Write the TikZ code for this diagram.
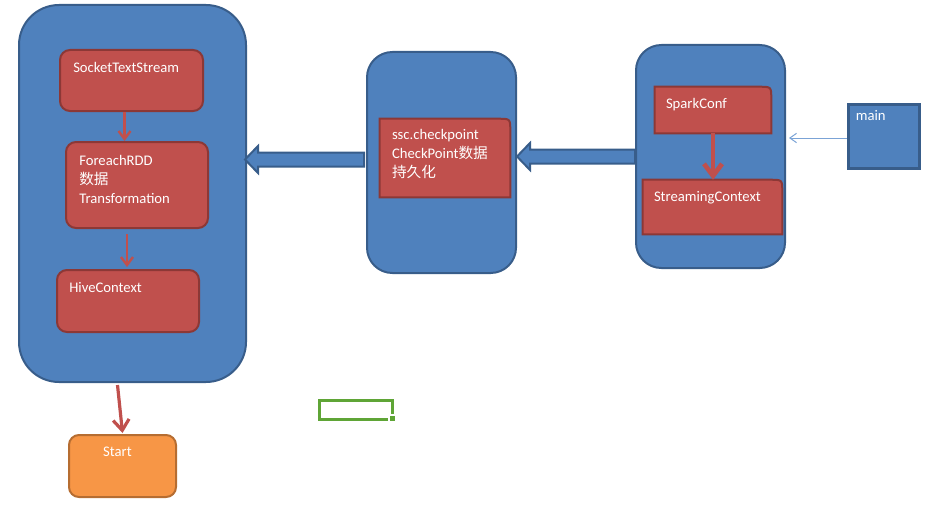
\documentclass[tikz,border=0pt]{standalone}
\usepackage{fontspec}
\setmainfont{Carlito}
\newfontfamily\cjk{Noto Sans CJK SC}
\usepackage{tikz}
\usetikzlibrary{calc,fit,arrows.meta}
\definecolor{blueface}{HTML}{4F81BD}
\definecolor{bluedark}{HTML}{385D8A}
\definecolor{redface}{HTML}{C0504D}
\definecolor{reddark}{HTML}{8C3836}
\definecolor{orangeface}{HTML}{F79646}
\definecolor{orangedark}{HTML}{B66D31}
\definecolor{thinblue}{HTML}{7BA3D6}
\definecolor{selgreen}{HTML}{5FA536}

\begin{document}
\begin{tikzpicture}[x=0.75pt, y=-0.75pt,
	bluebox/.style={draw=bluedark, fill=blueface, line width=1.5pt, inner sep=0pt},
	redbox/.style={draw=reddark, fill=redface, line width=1.5pt, inner sep=0pt, rounded corners=7.5pt},
	frame/.style={inner sep=0pt},
	lbl/.style={anchor=north west, inner sep=0pt, text=white, align=left, font=\fontsize{11}{14.25}\selectfont},
	redarrow/.style={draw=redface, line width=1.8pt, -{Straight Barb[length=6pt, width=9pt]}},
	blockarrow/.style={draw=bluedark, fill=blueface, line width=1.5pt},
	thinarrow/.style={draw=thinblue, line width=0.75pt, -{Straight Barb[length=5pt, width=7pt]}}]
	\useasboundingbox (0,0) rectangle (944,510);

	% left block
	\node (big) [bluebox, rounded corners=30pt, fit={(19,5) (246,382)}] {};
	\node (sts) [redbox, fit={(60,50) (203,111)}] {};
	\node (frdd) [redbox, fit={(66,142) (208,228)}] {};
	\node (hive) [redbox, fit={(57,270) (199,332)}] {};
	\node (sts-t) [lbl] at ($(sts.north west)+(14,13)$) {SocketTextStream};
	\node (frdd-t) [lbl] at ($(frdd.north west)+(14,14)$) {ForeachRDD\\{\cjk 数据}\\Transformation};
	\node (hive-t) [lbl] at ($(hive.north west)+(13,13)$) {HiveContext};
	\draw[redarrow] ($(sts.south)+(-7,0)$) coordinate (a1) -- (a1 |- frdd.north);
	\draw[redarrow] ($(frdd.south)+(-10,5)$) coordinate (a2) -- ($(a2 |- hive.north)+(0,-2)$);

	\node (start) [redbox, draw=orangedark, fill=orangeface, fit={(69,435) (176,497)}] {};
	\node (start-t) [lbl, anchor=north] at ($(start.north)+(-5,13)$) {Start};
	\draw[redarrow, line width=2.4pt, -{Straight Barb[length=8pt, width=12pt]}] ($(big.south)+(-15,2)$) -- ($(start.north)+(0,-1)$);

	% middle block
	\node (mid) [bluebox, rounded corners=19pt, fit={(367,52) (516,273)}] {};
	\node (ckpt) [frame, fit={(380,119) (510,197)}] {};
	\draw[redbox, rounded corners=0pt] (ckpt.south west) |- ($(ckpt.north east)+(-12,0)$) .. controls (ckpt.north east) .. ($(ckpt.north east)+(0,12)$) -- (ckpt.south east) -- cycle;
	\node (ckpt-t) [lbl] at ($(ckpt.north west)+(12,10)$) {ssc.checkpoint\\CheckPoint{\cjk 数据}\\{\cjk 持久化}};

	% right block
	\node (right) [bluebox, rounded corners=19pt, fit={(636,45) (785,268)}] {};
	\node (conf) [frame, fit={(655,87) (771,133)}] {};
	\node (sctx) [frame, fit={(643,180) (782,234)}] {};
	\draw[redbox, rounded corners=0pt] (conf.south west) |- ($(conf.north east)+(-12,0)$) .. controls (conf.north east) .. ($(conf.north east)+(0,12)$) -- (conf.south east) -- cycle;
	\draw[redbox, rounded corners=0pt] (sctx.south west) |- ($(sctx.north east)+(-12,0)$) .. controls (sctx.north east) .. ($(sctx.north east)+(0,12)$) -- (sctx.south east) -- cycle;
	\node (conf-t) [lbl] at ($(conf.north west)+(11,11)$) {SparkConf};
	\node (sctx-t) [lbl] at ($(sctx.north west)+(11,11)$) {StreamingContext};
	\draw[redarrow, line width=3.5pt, -{Straight Barb[length=9pt, width=13.5pt]}] (conf.south) -- (conf.south |- sctx.north);

	\node (main) [bluebox, line width=2.25pt, fit={(848,104) (919,168)}] {};
	\node (main-t) [lbl] at ($(main.north west)+(9,8)$) {main};
	\draw[thinarrow] ($(main.west)+(0,2)$) coordinate (m) -- ($(m -| right.east)+(3,0)$);

	% block arrows
	\coordinate (b1) at ($(mid.west)+(-2,-3)$);
	\coordinate (t1) at ($(big.east |- b1)+(-2,0)$);
	\draw[blockarrow] ($(b1)+(0,-7)$) -- ($(t1)+(13,-7)$) -- ($(t1)+(13,-13.5)$) -- (t1) -- ($(t1)+(13,13.5)$) -- ($(t1)+(13,7)$) -- ($(b1)+(0,7)$) -- cycle;
	\coordinate (b2) at (right.west);
	\coordinate (t2) at (mid.east |- b2);
	\draw[blockarrow] ($(b2)+(0,-7)$) -- ($(t2)+(13,-7)$) -- ($(t2)+(13,-13.5)$) -- (t2) -- ($(t2)+(13,13.5)$) -- ($(t2)+(13,7)$) -- ($(b2)+(0,7)$) -- cycle;

	% stray selection box
	\draw[selgreen, line width=2.25pt] (388,419.5) -- (319.5,419.5) |- (392.5,400.5) -- (392.5,414);
	\fill[selgreen] (389.5,415.5) rectangle (394.5,420.5);
\end{tikzpicture}
\end{document}
